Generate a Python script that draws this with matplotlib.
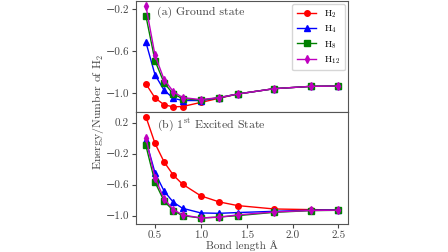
import matplotlib
matplotlib.use("Agg")
import matplotlib.pyplot as plt

plt.rcParams['font.family'] = ['cmr10', 'DejaVu Serif']
plt.rcParams['mathtext.fontset'] = 'cm'
plt.rcParams['axes.formatter.use_mathtext'] = False
plt.rcParams['axes.unicode_minus'] = True
plt.rcParams['font.size'] = 8

bond = [0.4, 0.5, 0.6, 0.7, 0.8, 1.0, 1.2, 1.4, 1.8, 2.2, 2.5]

g_h2 = [-0.912, -1.047, -1.113, -1.132, -1.129, -1.090, -1.050, -1.010, -0.959, -0.937, -0.934]
g_h4 = [-0.514, -0.827, -0.975, -1.050, -1.072, -1.072, -1.046, -1.010, -0.959, -0.937, -0.934]
g_h8 = [-0.263, -0.693, -0.906, -1.010, -1.053, -1.069, -1.044, -1.010, -0.959, -0.937, -0.934]
g_h12 = [-0.169, -0.640, -0.874, -0.987, -1.044, -1.063, -1.044, -1.010, -0.959, -0.937, -0.934]

e_h2 = [0.278, -0.068, -0.309, -0.478, -0.594, -0.745, -0.823, -0.870, -0.914, -0.922, -0.926]
e_h4 = [-0.024, -0.447, -0.685, -0.827, -0.905, -0.965, -0.970, -0.960, -0.944, -0.930, -0.926]
e_h8 = [-0.093, -0.568, -0.814, -0.935, -1.000, -1.030, -1.017, -1.000, -0.957, -0.935, -0.931]
e_h12 = [0.006, -0.512, -0.784, -0.922, -0.990, -1.030, -1.020, -0.990, -0.952, -0.933, -0.929]

labels = [r'H$_2$', r'H$_4$', r'H$_8$', r'H$_{12}$']
colors = ['red', 'blue', 'green', 'm']
markers = ['o', '^', 's', 'd']

fig = plt.figure(figsize=(4.48, 2.52), dpi=100)
ax1 = fig.add_axes([0.304, 0.556, 0.473, 0.44])
ax2 = fig.add_axes([0.304, 0.111, 0.473, 0.445], sharex=ax1)

for ys, lab, c, m in zip([g_h2, g_h4, g_h8, g_h12], labels, colors, markers):
    ax1.plot(bond, ys, color=c, marker=m, markersize=4, linewidth=1, label=lab)
for ys, lab, c, m in zip([e_h2, e_h4, e_h8, e_h12], labels, colors, markers):
    ax2.plot(bond, ys, color=c, marker=m, markersize=4, linewidth=1, label=lab)

ax1.set_ylim(-1.18, -0.125)
ax1.set_yticks([-0.2, -0.6, -1.0])
ax2.set_ylim(-1.108, 0.338)
ax2.set_yticks([0.2, -0.2, -0.6, -1.0])
ax2.set_xticks([0.5, 1.0, 1.5, 2.0, 2.5])
ax1.tick_params(labelbottom=False)

ax1.text(0.1, 0.9, '(a) Ground state', transform=ax1.transAxes, fontsize=8.5, va='center', color='#444444')
ax2.text(0.1, 0.89, r'(b) 1$^{\rm st}$ Excited State', transform=ax2.transAxes, fontsize=8.5, va='center', color='#444444')

ax1.legend(loc='upper right', fontsize=7, handlelength=2.0, labelspacing=0.35,
           borderpad=0.5, borderaxespad=0.3)

for ax in (ax1, ax2):
    for s in ax.spines.values():
        s.set_color('#555555')
    ax.tick_params(colors='#444444', labelcolor='#444444', labelsize=8, length=3, pad=2)

fig.text(0.5405, 0.003, 'Bond length Å', ha='center', va='bottom', fontsize=8,
         color='#444444', family=['cmr10', 'Liberation Serif'])
fig.text(0.218, 0.555, r'Energy/Number of H$_2$', rotation=90, va='center', ha='center', fontsize=8.5, color='#444444')

fig.savefig('out.png', dpi=100)
